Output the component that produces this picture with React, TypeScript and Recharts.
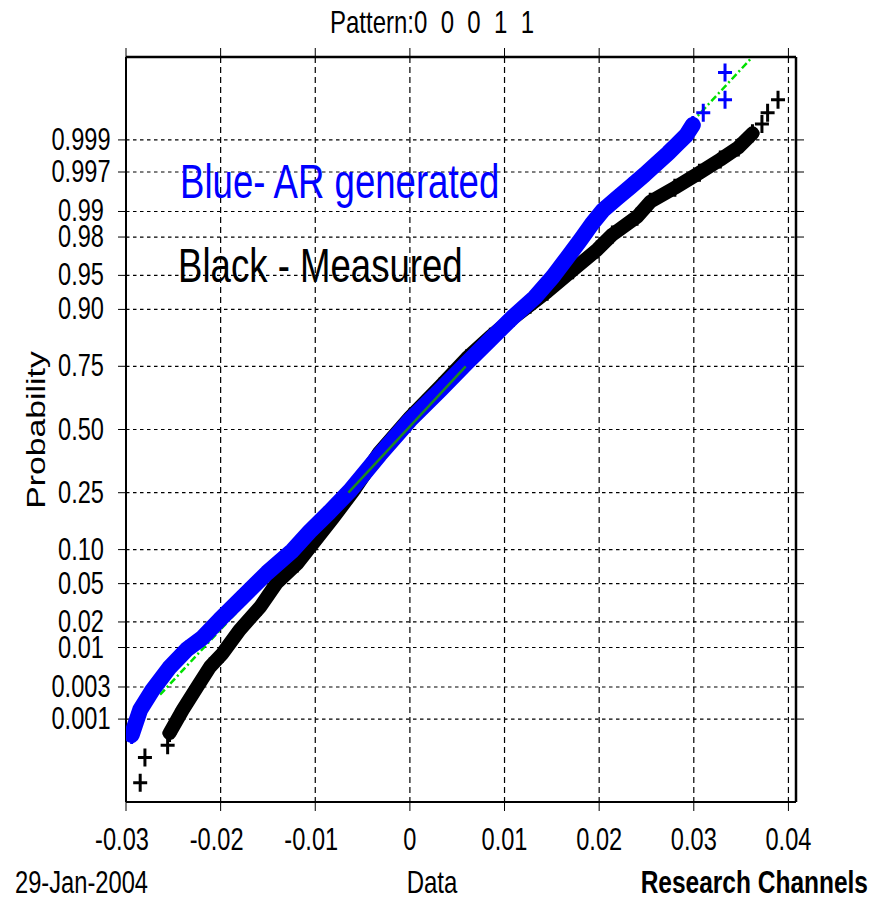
import React from 'react';
import { ScatterChart, Scatter, XAxis, YAxis, CartesianGrid } from 'recharts';

const FONT = '"Liberation Sans", Arial, Helvetica, sans-serif';

// axis ticks
const xTicks = [-0.03, -0.02, -0.01, 0, 0.01, 0.02, 0.03, 0.04];
const xTickLabels = ['-0.03', '-0.02', '-0.01', '0', '0.01', '0.02', '0.03', '0.04'];
const probTicks = [0.001, 0.003, 0.01, 0.02, 0.05, 0.1, 0.25, 0.5, 0.75, 0.9, 0.95, 0.98, 0.99, 0.997, 0.999];
const probTickLabels = ['0.001', '0.003', '0.01', '0.02', '0.05', '0.10', '0.25', '0.50', '0.75', '0.90', '0.95', '0.98', '0.99', '0.997', '0.999'];

// [data value, normal quantile]
// Blue - AR generated
const arBand: [number, number][] = [
  [-0.0294, -3.26], [-0.0285, -2.99], [-0.0272, -2.78], [-0.0254, -2.54], [-0.0236, -2.35],
  [-0.0219, -2.22], [-0.0201, -2.03], [-0.0177, -1.79], [-0.0151, -1.53], [-0.0124, -1.29],
  [-0.0106, -1.09], [-0.0085, -0.88], [-0.0063, -0.65], [-0.0032, -0.27], [0, 0.10],
  [0.0032, 0.42], [0.0060, 0.71], [0.0085, 0.96], [0.0109, 1.20], [0.0132, 1.41],
  [0.0151, 1.63], [0.0166, 1.83], [0.0180, 2.02], [0.0192, 2.19], [0.0204, 2.34],
  [0.0219, 2.47], [0.0233, 2.59], [0.0248, 2.72], [0.0261, 2.84], [0.0273, 2.95],
  [0.0282, 3.04], [0.0292, 3.14], [0.0299, 3.25],
];
const arTail: [number, number][] = [[0.0310, 3.38], [0.0333, 3.52], [0.0333, 3.81]];

// Black - Measured
const measuredBand: [number, number][] = [
  [-0.0254, -3.24], [-0.0240, -2.99], [-0.0225, -2.75], [-0.0211, -2.53], [-0.0198, -2.39],
  [-0.0180, -2.14], [-0.0158, -1.89], [-0.0141, -1.64], [-0.0119, -1.43], [-0.0102, -1.21],
  [-0.0081, -0.94], [-0.0060, -0.66], [-0.0032, -0.24], [0, 0.13], [0.0032, 0.46],
  [0.0060, 0.76], [0.0085, 0.99], [0.0109, 1.19], [0.0127, 1.33], [0.0145, 1.47],
  [0.0172, 1.70], [0.0198, 1.92], [0.0214, 2.08], [0.0240, 2.27], [0.0254, 2.43],
  [0.0280, 2.58], [0.0306, 2.74], [0.0328, 2.88], [0.0347, 3.01], [0.0362, 3.16],
];
const measuredTail: [number, number][] = [
  [-0.0256, -3.37], [-0.0280, -3.50], [-0.0285, -3.77],
  [0.0372, 3.26], [0.0378, 3.38], [0.0389, 3.52],
];

// reference line (quartile part solid, extension dash-dot)
const refDashed: [number, number][] = [[-0.0264, -2.83], [0.0361, 3.965]];
const refSolid: [number, number][] = [[-0.0065, -0.6745], [0.0059, 0.6745]];

// inverse normal cdf (Acklam) - used for the probability scale
function normInv(p: number): number {
  const a = [-39.69683028665376, 220.9460984245205, -275.9285104469687, 138.357751867269, -30.66479806614716, 2.506628277459239];
  const b = [-54.47609879822406, 161.5858368580409, -155.6989798598866, 66.80131188771972, -13.28068155288572];
  const c = [-0.007784894002430293, -0.3223964580411365, -2.400758277161838, -2.549732539343734, 4.374664141464968, 2.938163982698783];
  const d = [0.007784695709041462, 0.3224671290700398, 2.445134137142996, 3.754408661907416];
  const pl = 0.02425;
  if (p < pl) {
    const q = Math.sqrt(-2 * Math.log(p));
    return (((((c[0] * q + c[1]) * q + c[2]) * q + c[3]) * q + c[4]) * q + c[5]) / ((((d[0] * q + d[1]) * q + d[2]) * q + d[3]) * q + 1);
  }
  if (p > 1 - pl) {
    const q = Math.sqrt(-2 * Math.log(1 - p));
    return -(((((c[0] * q + c[1]) * q + c[2]) * q + c[3]) * q + c[4]) * q + c[5]) / ((((d[0] * q + d[1]) * q + d[2]) * q + d[3]) * q + 1);
  }
  const q = p - 0.5;
  const r = q * q;
  return (((((a[0] * r + a[1]) * r + a[2]) * r + a[3]) * r + a[4]) * r + a[5]) * q / (((((b[0] * r + b[1]) * r + b[2]) * r + b[3]) * r + b[4]) * r + 1);
}

const yTicks = probTicks.map(normInv);
const toPts = (arr: [number, number][]) => arr.map(([x, q]) => ({ x, q }));

const X_DOMAIN: [number, number] = [-0.03, 0.0408];
const Y_DOMAIN: [number, number] = [-3.975, 3.975];

const plus = (color: string) => (props: any) => {
  const { cx, cy } = props;
  if (cx == null || cy == null) return <g />;
  return (
    <path
      d={`M${cx - 7},${cy}H${cx + 7}M${cx},${cy - 9}V${cy + 9}`}
      stroke={color}
      strokeWidth={3}
      fill="none"
    />
  );
};
const noShape = () => <g />;

const renderXTick = (props: any) => {
  const { x, payload } = props;
  const i = xTicks.findIndex((t) => Math.abs(t - payload.value) < 1e-9);
  const dx = payload.value < 0 ? -4 : 0;
  return (
    <text
      transform={`translate(${x + dx},850) scale(1,1.3)`}
      textAnchor="middle"
      fontFamily={FONT}
      fontSize={23.6}
      fill="#000"
    >
      {i >= 0 ? xTickLabels[i] : ''}
    </text>
  );
};

const renderYTick = (props: any) => {
  const { y, payload } = props;
  const i = yTicks.findIndex((t) => Math.abs(t - payload.value) < 1e-9);
  return (
    <text
      transform={`translate(81,${y + 10}) scale(1,1.3)`}
      textAnchor="middle"
      fontFamily={FONT}
      fontSize={23.6}
      fill="#000"
    >
      {i >= 0 ? probTickLabels[i] : ''}
    </text>
  );
};

export default function App() {
  return (
    <div style={{ position: 'absolute', left: 0, top: 0, width: 874, height: 899, background: '#fff' }}>
      <ScatterChart width={874} height={899} margin={{ top: 47, right: 68, bottom: 67, left: 66 }}>
        <CartesianGrid vertical={false} stroke="#000" strokeWidth={1.2} strokeDasharray="3.5 3.5" />
        <CartesianGrid horizontal={false} stroke="#000" strokeWidth={1.2} strokeDasharray="6 4" />
        <XAxis
          type="number"
          dataKey="x"
          domain={X_DOMAIN}
          ticks={xTicks}
          interval={0}
          allowDataOverflow
          height={30}
          tickSize={9}
          tickLine={{ stroke: '#000' }}
          axisLine={{ stroke: '#000', strokeWidth: 2 }}
          tick={renderXTick}
        />
        <XAxis
          xAxisId="top"
          orientation="top"
          type="number"
          dataKey="x"
          domain={X_DOMAIN}
          ticks={xTicks}
          interval={0}
          allowDataOverflow
          height={10}
          tickSize={9}
          tickLine={{ stroke: '#000' }}
          axisLine={{ stroke: '#000', strokeWidth: 2.5 }}
          tick={noShape}
        />
        <YAxis
          type="number"
          dataKey="q"
          domain={Y_DOMAIN}
          ticks={yTicks}
          interval={0}
          allowDataOverflow
          width={60}
          tickSize={8}
          tickLine={{ stroke: '#000' }}
          axisLine={{ stroke: '#000', strokeWidth: 2 }}
          tick={renderYTick}
        />
        <YAxis
          yAxisId="right"
          orientation="right"
          type="number"
          dataKey="q"
          domain={Y_DOMAIN}
          ticks={yTicks}
          interval={0}
          allowDataOverflow
          width={10}
          tickSize={8}
          tickLine={{ stroke: '#000' }}
          axisLine={{ stroke: '#000', strokeWidth: 2.5 }}
          tick={noShape}
        />
        <Scatter
          data={toPts(measuredBand)}
          fill="#000"
          line={{ stroke: '#000', strokeWidth: 14, strokeLinecap: 'round', strokeLinejoin: 'round' }}
          lineType="joint"
          shape={plus('#000')}
          isAnimationActive={false}
        />
        <Scatter data={toPts(measuredTail)} fill="#000" shape={plus('#000')} isAnimationActive={false} />
        <Scatter
          data={toPts(refDashed)}
          fill="#00e000"
          line={{ stroke: '#00e000', strokeWidth: 2.5, strokeDasharray: '7 3 2 3' }}
          lineType="joint"
          shape={noShape}
          isAnimationActive={false}
        />
        <Scatter
          data={toPts(arBand)}
          fill="#0000ff"
          line={{ stroke: '#0000ff', strokeWidth: 16, strokeLinecap: 'round', strokeLinejoin: 'round' }}
          lineType="joint"
          shape={plus('#0000ff')}
          isAnimationActive={false}
        />
        <Scatter data={toPts(arTail)} fill="#0000ff" shape={plus('#0000ff')} isAnimationActive={false} />
        <Scatter
          data={toPts(refSolid)}
          fill="#1f8a1f"
          line={{ stroke: '#1f8a1f', strokeWidth: 2.5 }}
          lineType="joint"
          shape={noShape}
          isAnimationActive={false}
        />
      </ScatterChart>
      <svg
        width={874}
        height={899}
        style={{ position: 'absolute', left: 0, top: 0, pointerEvents: 'none' }}
        fontFamily={FONT}
      >
        <text transform="translate(432,33) scale(1,1.3)" textAnchor="middle" fontSize={24} fill="#000" style={{ whiteSpace: 'pre' }}>
          {'Pattern:0  0  0  1  1'}
        </text>
        <text transform="translate(45,430) rotate(-90) scale(1.3,1)" textAnchor="middle" fontSize={26} fill="#000">
          Probability
        </text>
        <text transform="translate(180,198) scale(1,1.33)" fontSize={36.6} fill="#0000ff">
          Blue- AR generated
        </text>
        <text transform="translate(178,282) scale(1,1.33)" fontSize={36.6} fill="#000">
          Black - Measured
        </text>
        <text transform="translate(432,893) scale(1,1.3)" textAnchor="middle" fontSize={24} fill="#000">
          Data
        </text>
        <text transform="translate(15,893) scale(1,1.3)" fontSize={23.7} fill="#000">
          29-Jan-2004
        </text>
        <text transform="translate(868,893) scale(1,1.3)" textAnchor="end" fontSize={24.5} fontWeight="bold" fill="#000">
          Research Channels
        </text>
      </svg>
    </div>
  );
}
